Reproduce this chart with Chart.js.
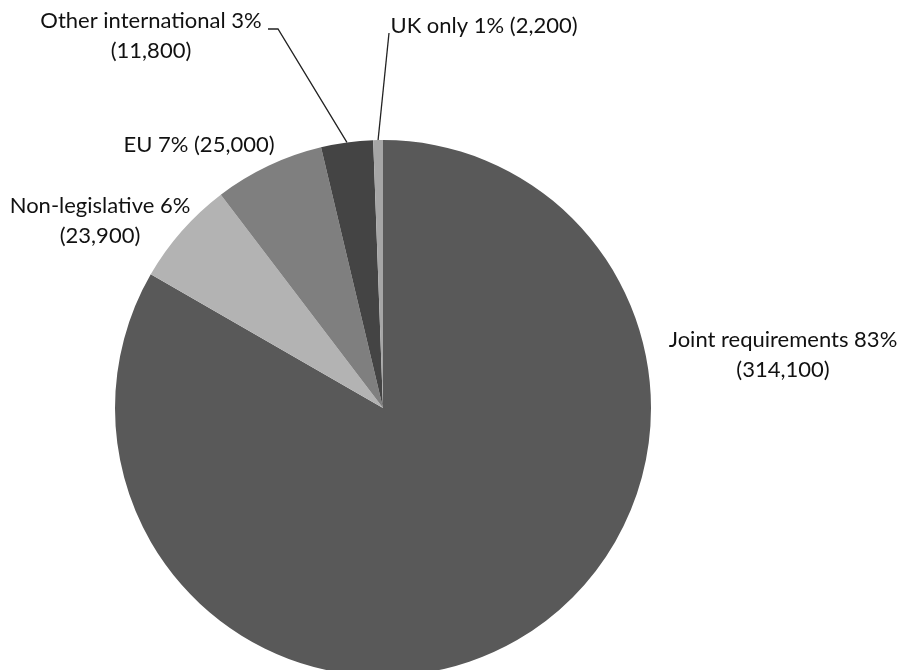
<!DOCTYPE html>
<html>
<head>
<meta charset="utf-8">
<script src="https://cdn.jsdelivr.net/npm/chart.js@4/dist/chart.umd.min.js"></script>
<style>
  html, body { margin: 0; padding: 0; background: #ffffff; overflow: hidden; }
  #wrap { position: absolute; left: 0; top: 0; width: 905px; height: 816px; }
</style>
</head>
<body>
<div id="wrap"><canvas id="pie"></canvas></div>
<script>
// Requirements by source (number of requirements)
const categories = ['Joint requirements', 'Non-legislative', 'EU', 'Other international', 'UK only'];
const values = [314100, 23900, 25000, 11800, 2200];
const percentLabels = ['83%', '6%', '7%', '3%', '1%'];
const valueLabels = ['(314,100)', '(23,900)', '(25,000)', '(11,800)', '(2,200)'];
const sliceColors = ['#595959', '#b3b3b3', '#7f7f7f', '#444444', '#a6a6a6'];

// Label text placement: centre x, first baseline y, one or two lines,
// and an optional elbow for the leader line to the slice edge.
const labelLayout = [
  { x: 783, y: 347, twoLines: true },
  { x: 100, y: 213, twoLines: true },
  { x: 199, y: 152, twoLines: false },
  { x: 151, y: 28, twoLines: true, leader: [[268, 29], [278, 29]] },
  { x: 484, y: 33, twoLines: false, leader: [[389, 33]] }
];

const FONT = '22px Lato, "Open Sans", sans-serif';
const LINE_GAP = 29.5;

const sliceLabels = {
  id: 'sliceLabels',
  afterDatasetsDraw(chart) {
    const ctx = chart.ctx;
    const arcs = chart.getDatasetMeta(0).data;
    ctx.save();
    ctx.font = FONT;
    ctx.fillStyle = '#111111';
    ctx.textAlign = 'center';
    ctx.textBaseline = 'alphabetic';
    labelLayout.forEach((lay, i) => {
      const head = categories[i] + ' ' + percentLabels[i];
      if (lay.twoLines) {
        ctx.fillText(head, lay.x, lay.y);
        ctx.fillText(valueLabels[i], lay.x, lay.y + LINE_GAP);
      } else {
        ctx.fillText(head + ' ' + valueLabels[i], lay.x, lay.y);
      }
      if (lay.leader) {
        const arc = arcs[i];
        const mid = (arc.startAngle + arc.endAngle) / 2;
        const ex = arc.x + Math.cos(mid) * arc.outerRadius;
        const ey = arc.y + Math.sin(mid) * arc.outerRadius;
        ctx.beginPath();
        ctx.strokeStyle = '#222222';
        ctx.lineWidth = 1.3;
        lay.leader.forEach((p, k) => k === 0 ? ctx.moveTo(p[0], p[1]) : ctx.lineTo(p[0], p[1]));
        ctx.lineTo(ex, ey);
        ctx.stroke();
      }
    });
    ctx.restore();
  }
};

new Chart(document.getElementById('pie'), {
  type: 'pie',
  data: {
    labels: categories,
    datasets: [{
      data: values,
      backgroundColor: sliceColors,
      borderWidth: 0,
      hoverOffset: 0
    }]
  },
  options: {
    responsive: true,
    maintainAspectRatio: false,
    animation: false,
    rotation: 0,
    layout: { padding: { top: 140, bottom: 140, left: 115, right: 254 } },
    plugins: {
      legend: { display: false },
      tooltip: { enabled: false }
    }
  },
  plugins: [sliceLabels]
});
</script>
</body>
</html>
